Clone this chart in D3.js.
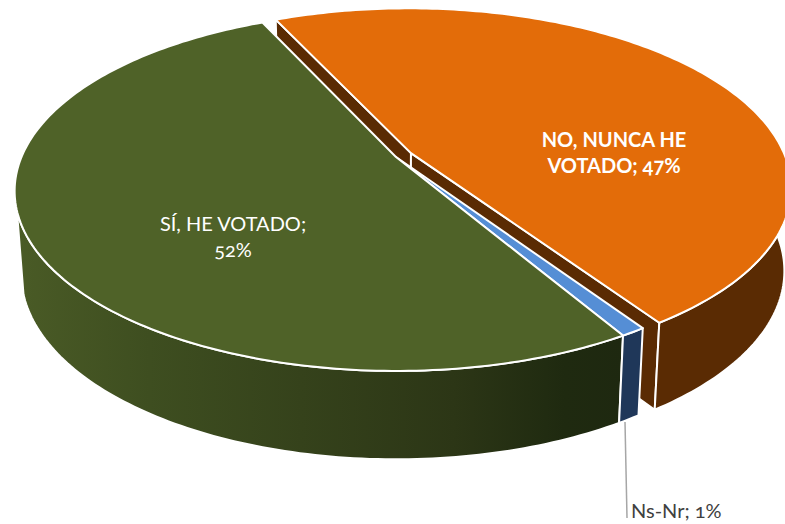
<!DOCTYPE html>
<html>
<head>
<meta charset="utf-8">
<script src="https://cdn.jsdelivr.net/npm/d3@7"></script>
<style>
html,body{margin:0;padding:0;background:#fff;overflow:hidden}
svg{display:block}
text{font-family:Lato,"Open Sans",sans-serif;font-size:20px;font-variant-numeric:oldstyle-nums}
</style>
</head>
<body>
<svg id="c" width="785" height="524"></svg>
<script>
const categories = ["NO, NUNCA HE VOTADO", "Ns-Nr", "SÍ, HE VOTADO"];
const values = [47.49, 0.9, 51.61];
const percentLabels = ["47%", "1%", "52%"];
const topColors = ["#e36c09", "#558ed5", "#4f6228"];
const wallColors = ["#5a2b03", "#1f3759", "url(#greenWall)"];
const explode = [0.046, 0, 0];
const startDeg = 335.3;

const svg = d3.select("#c");
const rad = d => d * Math.PI / 180;
const k = 0.189;

// Perspective view of the disc: one pair of scales per plane (top face, bottom face)
const planes = {
  top: {
    x: d3.scaleLinear().domain([-1, 1]).range([396 - 374.5, 396 + 374.5]),
    y: d3.scaleLinear().domain([-1, 1]).range([157 + 173.5, 157 - 173.5])
  },
  bottom: {
    x: d3.scaleLinear().domain([-1, 1]).range([396 - 368, 396 + 368]),
    y: d3.scaleLinear().domain([-1, 1]).range([239 + 178.7, 239 - 178.7])
  }
};
const proj = (plane, u, v) => {
  const w = 1 + k * v;
  return [planes[plane].x(u / w), planes[plane].y(v / w)];
};

const pie = d3.pie().sort(null).startAngle(rad(startDeg)).endAngle(rad(startDeg + 360));
const arcs = pie(values).map((d, i) => {
  const mid = (d.startAngle + d.endAngle) / 2;
  return { ...d, i, ou: explode[i] * Math.sin(mid), ov: explode[i] * Math.cos(mid) };
});
const line = d3.line();
const samples = (a0, a1) => {
  const n = Math.max(2, Math.ceil(Math.abs(a1 - a0) / rad(1)));
  return d3.range(n + 1).map(j => a0 + (a1 - a0) * j / n);
};
const rimPt = (plane, s, ang) => proj(plane, s.ou + Math.sin(ang), s.ov + Math.cos(ang));
const hubPt = (plane, s) => proj(plane, s.ou, s.ov);

const topPath = s => line([hubPt("top", s), ...samples(s.startAngle, s.endAngle).map(a => rimPt("top", s, a))]) + "Z";
const wallPath = (s, a0, a1) => {
  const ang = samples(a0, a1);
  return line([...ang.map(a => rimPt("top", s, a)), ...ang.slice().reverse().map(a => rimPt("bottom", s, a))]) + "Z";
};
const cutPath = (s, ang) => line([hubPt("top", s), rimPt("top", s, ang), rimPt("bottom", s, ang), hubPt("bottom", s)]) + "Z";

const grad = svg.append("defs").append("linearGradient")
  .attr("id", "greenWall").attr("gradientUnits", "userSpaceOnUse")
  .attr("x1", 15).attr("x2", 625).attr("y1", 0).attr("y2", 0);
[[0, "#4a5b26"], [0.22, "#3e4e20"], [0.47, "#35421b"], [0.72, "#2c3616"], [0.9, "#1f2a10"], [1, "#1e2810"]]
  .forEach(([o, c]) => grad.append("stop").attr("offset", o).attr("stop-color", c));

const paint = (d, fill) => svg.append("path").attr("d", d).attr("fill", fill)
  .attr("stroke", "#fff").attr("stroke-width", 2).attr("stroke-linejoin", "round");

const [orange, blue, green] = arcs;
// Back to front: exploded slice first, the others cover its hidden walls
paint(cutPath(orange, orange.startAngle), wallColors[0]);
paint(cutPath(orange, orange.endAngle), wallColors[0]);
paint(wallPath(orange, rad(360 + 70), orange.endAngle), wallColors[0]);
paint(topPath(orange), topColors[0]);

paint(wallPath(green, green.startAngle, rad(360 + 253)), wallColors[2]);
paint(wallPath(blue, blue.startAngle, blue.endAngle), wallColors[1]);
paint(topPath(blue), topColors[1]);
paint(topPath(green), topColors[2]);

// Leader line
svg.append("line").attr("x1", 625).attr("y1", 422).attr("x2", 627).attr("y2", 518)
  .attr("stroke", "#a6a6a6").attr("stroke-width", 1.5);

// Labels
const label = (x, y, str, fill, weight, anchor) => svg.append("text")
  .attr("x", x).attr("y", y).attr("fill", fill).attr("font-weight", weight)
  .attr("text-anchor", anchor).text(str);

label(614, 147, "NO, NUNCA HE", "#fff", 700, "middle");
label(614, 173, "VOTADO; " + percentLabels[0], "#fff", 700, "middle");
label(233, 231, categories[2] + ";", "#fff", 400, "middle");
label(233, 257, percentLabels[2], "#fff", 400, "middle");
label(631, 518, categories[1] + "; " + percentLabels[1], "#404040", 400, "start");
</script>
</body>
</html>
